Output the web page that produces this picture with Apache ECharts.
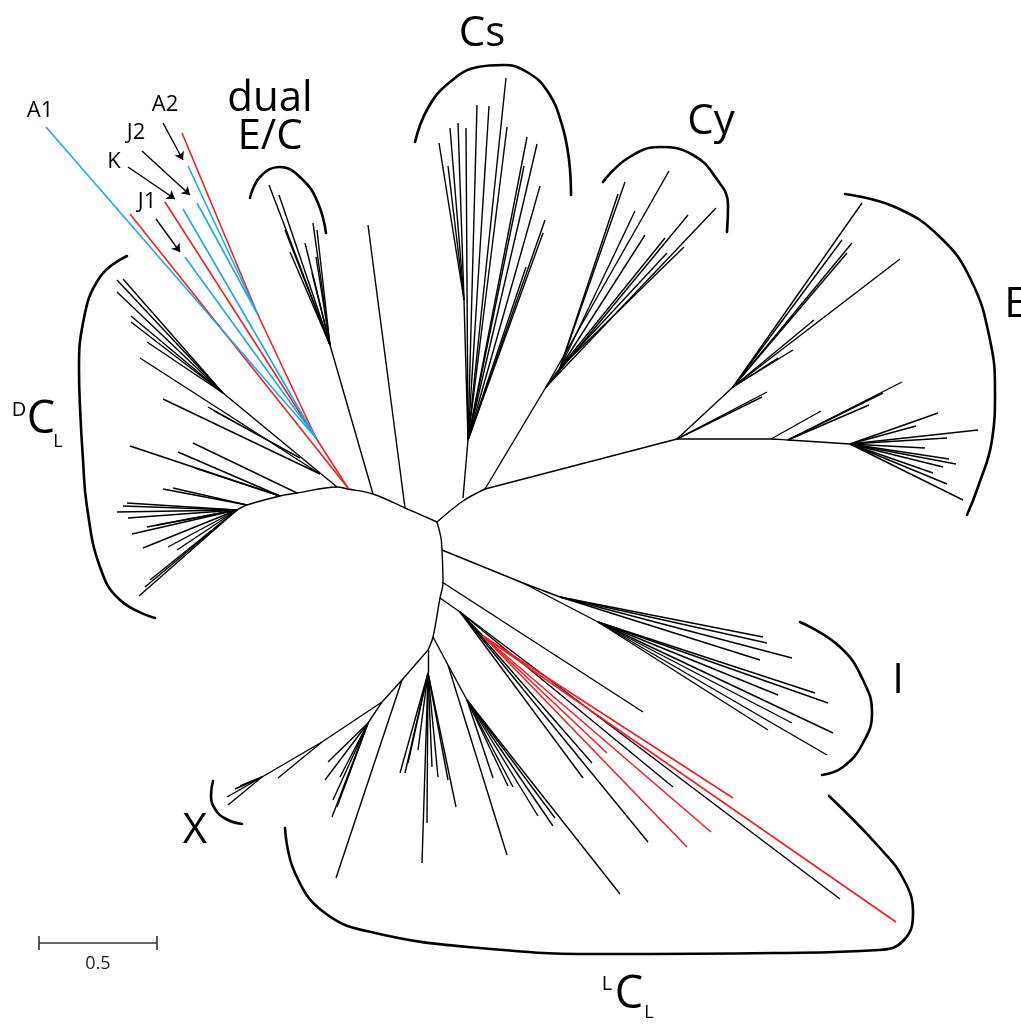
<!DOCTYPE html>
<html>
<head>
<meta charset="utf-8">
<style>
  html, body { margin: 0; padding: 0; background: #fff; }
  #main { width: 1021px; height: 1024px; }
</style>
<script src="https://cdn.jsdelivr.net/npm/echarts@6/dist/echarts.min.js"></script>
</head>
<body>
<div id="main"></div>
<script>
// unrooted tree, node positions (drawing units, y down)
// each fan: [parent node, [child nodes / tips]]
const dclFans = [
  [[337,487], [[223,393]]],
  [[223,393], [[117,280],[123,279],[117,292],[131,316],[131,322],[147,342]]],
  [[320,474], [[140,358],[163,399]]],
  [[300,458], [[208,407],[214,411]]],
  [[297,493], [[193,443]]],
  [[280,496], [[130,446],[178,452],[195,468]]],
  [[247,505], [[163,489],[173,488]]],
  [[237,510], [[123,506],[127,503],[117,512],[128,518],[147,527],[157,525],[132,534],[143,548],
               [168,547],[177,550],[150,580],[145,587],[139,596]]]
];
const dualFans = [
  [[373,494], [[330,345]]],
  [[330,345], [[269,185],[279,195],[285,230],[290,252],[305,243],[313,223],[317,230],[316,257],[312,273]]]
];
const loneFans = [
  [[405,508], [[368,225]]],
  [[442,582], [[643,712]]]
];
const csFans = [
  [[463,498], [[468,440]]],
  [[468,440], [[464,300]]],
  [[464,300], [[439,143],[448,166],[450,128],[458,123]]],
  [[468,440], [[466,128],[477,105],[489,106],[506,78],[507,127],[527,137],[524,166],[537,144],
               [540,186],[545,220],[543,233],[526,267]]]
];
const cyFans = [
  [[485,489], [[546,387]]],
  [[546,387], [[560,368],[669,171],[688,215],[716,208]]],
  [[560,368], [[618,194],[625,182],[635,211],[645,235],[665,238],[684,247],[667,253]]]
];
const eFans = [
  [[485,489], [[677,439]]],
  [[677,439], [[733,387],[767,392],[762,397]]],
  [[733,387], [[862,203],[842,240],[847,253],[852,243],[900,259],[814,320],[793,350],[778,358]]],
  [[771,439], [[821,411]]],
  [[788,440], [[902,382],[883,393],[869,405]]],
  [[850,444], [[938,413],[916,426],[978,430],[947,438],[925,448],[949,459],[956,464],[943,467],
               [933,473],[947,484],[963,500]]]
];
const iFans = [
  [[442,550], [[523,583]]],
  [[523,583], [[560,597],[598,622]]],
  [[560,597], [[763,637],[767,643],[792,658],[760,660]]],
  [[598,622], [[815,693],[828,703],[778,695],[833,733],[792,723],[768,730],[827,755]]]
];
const lclFans = [
  [[440,598], [[460,612]]],
  [[460,612], [[583,778],[592,763],[648,842],[673,787],[840,899],[483,636]]],
  [[433,637], [[448,665]]],
  [[448,665], [[507,855],[467,700]]],
  [[467,700], [[493,778],[508,786],[513,787],[538,816],[553,826],[555,818],[620,894]]],
  [[428,650], [[428,673],[402,680]]],
  [[428,673], [[422,863],[400,773],[405,773],[408,763],[418,750],[432,767],[438,777],[448,780],[456,807],[427,823]]],
  [[402,680], [[336,878],[382,702]]],
  [[382,702], [[368,723],[322,742]]],
  [[368,723], [[332,817],[325,780],[328,762],[333,800],[337,807],[343,790],[340,777]]],
  [[322,742], [[278,778],[262,777]]],
  [[262,777], [[227,797],[228,805],[235,789],[240,786]]]
];
const redFans = [
  [[348,488], [[130,214],[316,438]]],
  [[316,438], [[165,202],[258,315]]],
  [[258,315], [[182,133]]],
  [[483,636], [[607,753],[687,847],[711,832],[733,798],[896,922]]]
];
const blueFans = [
  [[316,438], [[46,127],[185,257],[183,209]]],
  [[258,315], [[188,166],[197,203]]]
];
// curved backbone
const backbone = [
  [[237,510],[247,505],[280,496],[297,493],[337,487],[348,489],[373,494],[405,508],[437,522]],
  [[437,522],[463,501],[485,489]],
  [[437,522],[441,538],[442,550],[443,583],[440,598],[433,637],[428,650]],
  [[677,439],[771,439],[788,440],[850,444]]
];
// clade brackets
const brackets = [
  [[127,256],[100,277],[83,323],[79,370],[80,407],[83,460],[87,507],[100,567],[120,600],[155,618]],
  [[250,198],[260,177],[280,167],[303,180],[318,203],[326,233]],
  [[415,142],[428,108],[450,82],[478,67],[503,65],[527,72],[548,92],[562,125],[569,160],[571,195]],
  [[603,182],[628,158],[660,147],[693,155],[716,178],[728,205],[727,232]],
  [[845,194],[895,207],[940,237],[971,280],[990,340],[995,393],[992,440],[978,487],[967,515]],
  [[800,622],[840,647],[863,680],[872,713],[863,743],[843,767],[822,775]],
  [[213,781],[211,795],[215,809],[226,819],[242,824]],
  [[829,796],[879,847],[904,880],[913,913],[904,940],[879,950],[774,953],[606,954],[480,948],
   [375,933],[325,913],[295,873],[285,828]]
];
const arrows = [
  [[163,123],[183,160]],
  [[142,151],[190,195]],
  [[128,167],[175,199]],
  [[156,219],[180,252]]
];
const scaleBar = [[[39,943],[157,943]], [[39,936],[39,950]], [[157,936],[157,950]]];

const cladeLabels = [['Cs',482,34],['Cy',711,122],['E',1016,305],['dual',270,99],['E/C',270,137],['I',898,681],['X',195,831]];
const seqLabels = [['A1',40,111],['A2',165,105],['J2',136,133],['K',114,162],['J1',147,202]];
const dclLabel = [['D',19,410],['C',41,420],['L',58,442]];
const lclLabel = [['L',607,984],['C',629,995],['L',649,1013]];
const scaleLabel = [['0.5',98,964]];

const FONT = "'Open Sans', 'Noto Sans', sans-serif";
const RED = '#ec2227', BLUE = '#1fa9e1';

function segs(fans) {
  const out = [];
  fans.forEach(([p, kids]) => kids.forEach(k => out.push({ coords: [p, k] })));
  return out;
}
function linesSeries(data, color, width, extra) {
  return Object.assign({
    type: 'lines', coordinateSystem: 'cartesian2d', polyline: false, silent: true,
    data: data, lineStyle: { color: color, width: width, opacity: 1, cap: 'butt' }, z: 3
  }, extra || {});
}
function curveSeries(pts, width, smooth) {
  return { type: 'line', data: pts, smooth: smooth, showSymbol: false, silent: true,
    lineStyle: { color: '#000', width: width, cap: 'round' }, z: 2 };
}
function textSeries(items, size, color) {
  return { type: 'scatter', symbolSize: 0, silent: true, z: 5,
    data: items.map(d => ({ value: [d[1], d[2]], name: d[0] })),
    itemStyle: { color: 'transparent' },
    label: { show: true, position: 'inside', formatter: p => p.name,
      fontFamily: FONT, fontSize: size, color: color || '#000', opacity: 1 } };
}

const blackData = segs([].concat(dclFans, dualFans, loneFans, csFans, cyFans, eFans, iFans, lclFans));

const series = [
  linesSeries(blackData, '#000', 1.4),
  linesSeries(segs(redFans), RED, 1.6, { z: 4 }),
  linesSeries(segs(blueFans), BLUE, 1.6, { z: 4 }),
  linesSeries(arrows.map(a => ({ coords: a })), '#000', 1.4,
    { symbol: ['none', 'arrow'], symbolSize: 8, z: 4 }),
  linesSeries(scaleBar.map(a => ({ coords: a })), '#333', 1.6)
];
backbone.forEach(b => series.push(curveSeries(b, 1.4, 0.35)));
brackets.forEach(b => series.push(curveSeries(b, 2.6, 0.45)));
series.push(textSeries(cladeLabels, 42));
series.push(textSeries(seqLabels, 22));
series.push(textSeries([dclLabel[0]], 20), textSeries([dclLabel[1]], 45), textSeries([dclLabel[2]], 18));
series.push(textSeries([lclLabel[0]], 20), textSeries([lclLabel[1]], 45), textSeries([lclLabel[2]], 18));
series.push(textSeries(scaleLabel, 18, '#222'));

const chart = echarts.init(document.getElementById('main'), null, { renderer: 'canvas' });
chart.setOption({
  animation: false,
  backgroundColor: '#fff',
  grid: { left: 0, right: 0, top: 0, bottom: 0 },
  xAxis: { type: 'value', min: 0, max: 1021, show: false },
  yAxis: { type: 'value', min: 0, max: 1024, inverse: true, show: false },
  series: series
});
</script>
</body>
</html>
